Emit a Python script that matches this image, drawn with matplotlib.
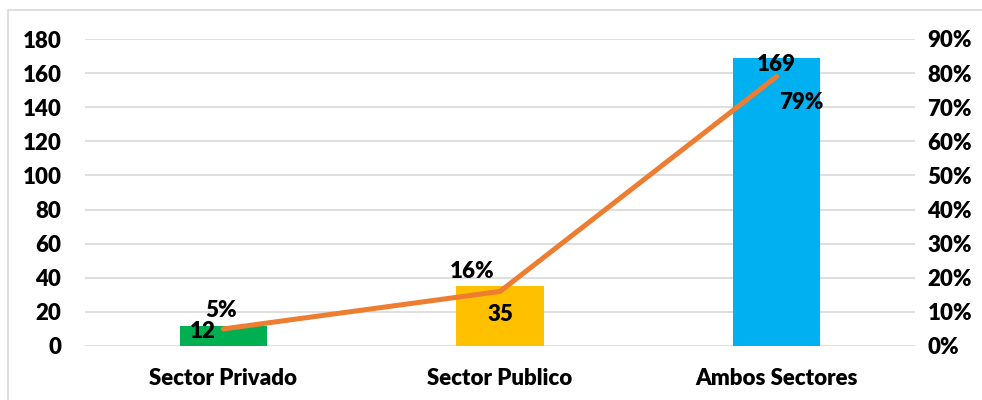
import matplotlib.pyplot as plt
from matplotlib.patches import Rectangle

# data
categories = ["Sector Privado", "Sector Publico", "Ambos Sectores"]
counts = [12, 35, 169]
shares = [0.05, 0.16, 0.79]
bar_colors = ["#00B050", "#FFC000", "#00B0F0"]

plt.rcParams["font.family"] = ["Lato", "DejaVu Sans"]
plt.rcParams["font.weight"] = "heavy"
FS = 16

fig = plt.figure(figsize=(9.82, 4.0), dpi=100)
ax = fig.add_axes([85 / 982, 54 / 400, 830 / 982, 307 / 400])

# figure border
fig.patches.append(Rectangle((8 / 982, -0.01), 1.0, 0.985, transform=fig.transFigure,
                             fill=False, edgecolor="#D9D9D9", linewidth=1.2))

x = list(range(len(categories)))
ax.bar(x, counts, width=0.315, color=bar_colors, zorder=2)
ax.set_xlim(-0.5, 2.5)
ax.set_ylim(0, 180)
ax.set_yticks(range(0, 181, 20))
ax.set_xticks(x)
ax.set_xticklabels(categories)
ax.grid(axis="y", color="#D9D9D9", linewidth=1.2, zorder=0)
ax.set_axisbelow(True)
for s in ax.spines.values():
    s.set_visible(False)
ax.tick_params(length=0, labelsize=FS, pad=17)
ax.tick_params(axis="x", pad=16)

ax2 = ax.twinx()
ax2.plot(x, shares, color="#ED7D31", linewidth=3.6, solid_capstyle="round", zorder=3)
ax2.set_ylim(0, 0.9)
ax2.set_yticks([i / 10 for i in range(10)])
ax2.set_yticklabels([f"{i * 10}%" for i in range(10)])
for s in ax2.spines.values():
    s.set_visible(False)
ax2.tick_params(length=0, labelsize=FS, pad=9)

# bar labels
count_offsets = [(-15, -4), (0, -20), (0, -5)]
for xi, c, off in zip(x, counts, count_offsets):
    ax.annotate(str(c), (xi, c), xytext=off, textcoords="offset points",
                ha="center", va="center", fontsize=FS, fontweight="heavy", zorder=4)

share_offsets = [(-2, 13), (-20, 14), (18, -19)]
for xi, p, off in zip(x, shares, share_offsets):
    ax2.annotate(f"{round(p * 100)}%", (xi, p), xytext=off, textcoords="offset points",
                 ha="center", va="center", fontsize=FS, fontweight="heavy", zorder=4)

fig.savefig("out.png", dpi=100)
